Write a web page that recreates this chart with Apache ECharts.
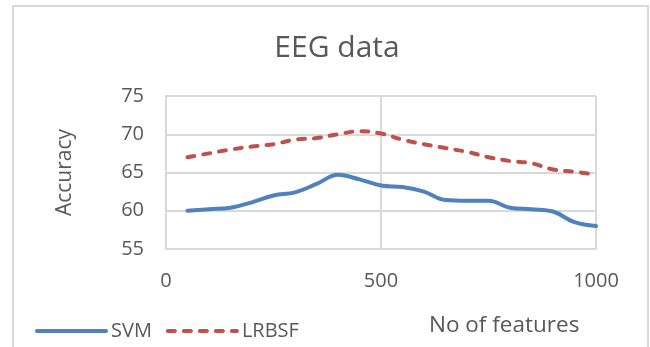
<!DOCTYPE html>
<html>
<head>
<meta charset="utf-8">
<script src="https://cdn.jsdelivr.net/npm/echarts@6/dist/echarts.min.js"></script>
<style>
  html, body { margin: 0; padding: 0; background: #ffffff; }
  #chart { width: 650px; height: 347px; }
</style>
</head>
<body>
<div id="chart"></div>
<script>
// Number of features on the x axis
const features = [50, 100, 150, 200, 250, 300, 350, 400, 450, 500,
                  550, 600, 650, 700, 750, 800, 850, 900, 950, 1000];
// Classification accuracy (%) per feature count
const svm   = [60.0, 60.2, 60.4, 61.1, 62.0, 62.4, 63.5, 64.7, 64.1, 63.3,
               63.1, 62.5, 61.4, 61.3, 61.3, 60.4, 60.2, 59.9, 58.5, 58.0];
const lrbsf = [67.0, 67.5, 68.0, 68.4, 68.7, 69.3, 69.5, 70.0, 70.4, 70.1,
               69.3, 68.7, 68.2, 67.7, 67.0, 66.5, 66.2, 65.4, 65.1, 64.7];
const seriesNames = ['SVM', 'LRBSF'];
const chartTitle = 'EEG data';
const xTitle = 'No of features';
const yTitle = 'Accuracy';

const FONT = '"Open Sans", sans-serif';
const TEXT = '#595959';
const GRID = '#d9d9d9';

const chart = echarts.init(document.getElementById('chart'), null, { renderer: 'canvas' });

const pairs = arr => features.map((f, i) => [f, arr[i]]);

chart.setOption({
  animation: false,
  backgroundColor: '#ffffff',
  title: {
    text: chartTitle,
    left: 332,
    top: 28,
    textAlign: 'center',
    textStyle: { fontFamily: FONT, fontSize: 30, fontWeight: 'normal', color: TEXT }
  },
  graphic: [
    {
      type: 'rect',
      shape: { x: 13, y: 6, width: 635, height: 360 },
      style: { fill: 'none', stroke: GRID, lineWidth: 2 },
      silent: true,
      z: -1
    },
    {
      type: 'text',
      left: 429,
      top: 314,
      style: { text: xTitle, fontFamily: FONT, fontSize: 22.5, fill: TEXT }
    }
  ],
  legend: {
    left: 30,
    top: 316,
    itemWidth: 69,
    itemHeight: 14,
    itemGap: 14,
    itemStyle: { opacity: 0 },
    lineStyle: { width: 4 },
    textStyle: { fontFamily: FONT, fontSize: 20, color: TEXT },
    data: seriesNames
  },
  grid: { left: 166, right: 54, top: 96, bottom: 98 },
  xAxis: {
    type: 'value',
    min: 0,
    max: 1000,
    interval: 500,
    axisLine: { show: true, lineStyle: { color: GRID, width: 2 } },
    axisTick: { show: false },
    splitLine: { show: true, lineStyle: { color: GRID, width: 2 } },
    axisLabel: { fontFamily: FONT, fontSize: 20, color: TEXT, margin: 22, formatter: v => String(v) }
  },
  yAxis: {
    type: 'value',
    min: 55,
    max: 75,
    interval: 5,
    name: yTitle,
    nameLocation: 'middle',
    nameRotate: 90,
    nameGap: 90,
    nameTextStyle: { fontFamily: FONT, fontSize: 21, color: TEXT },
    axisLine: { show: true, lineStyle: { color: GRID, width: 2 } },
    axisTick: { show: false },
    splitLine: { show: true, lineStyle: { color: GRID, width: 2 } },
    axisLabel: { fontFamily: FONT, fontSize: 20, color: TEXT, margin: 22 }
  },
  series: [
    {
      name: seriesNames[0],
      type: 'line',
      data: pairs(svm),
      smooth: 0.4,
      symbol: 'none',
      lineStyle: { color: '#4f81bd', width: 4, cap: 'round', join: 'round' },
      itemStyle: { color: '#4f81bd' }
    },
    {
      name: seriesNames[1],
      type: 'line',
      data: pairs(lrbsf),
      smooth: 0.4,
      symbol: 'none',
      lineStyle: { color: '#c0504d', width: 4, type: [7, 9], cap: 'round', join: 'round' },
      itemStyle: { color: '#c0504d' }
    }
  ]
});
</script>
</body>
</html>
